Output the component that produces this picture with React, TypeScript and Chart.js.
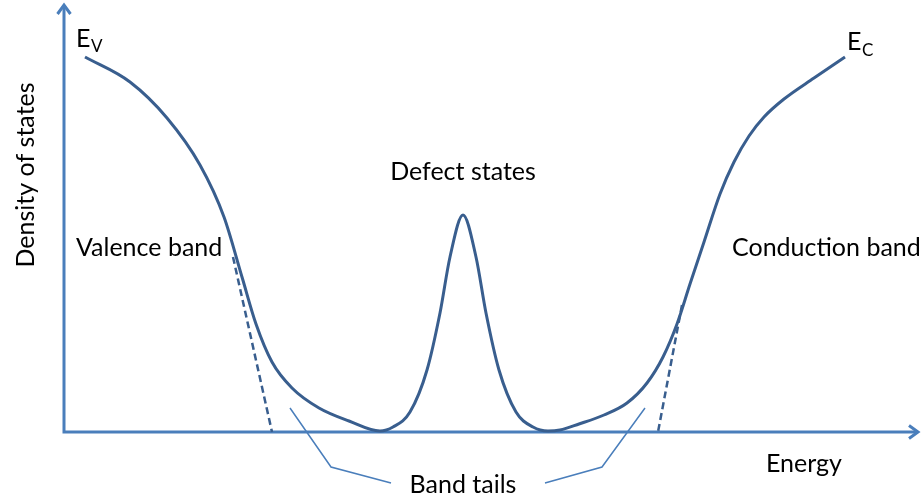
import React, { useEffect, useRef } from "react";
import { Chart, registerables } from "chart.js";
Chart.register(...registerables);

// Energy (x) and density of states (y), arbitrary units
const curveEnergy = [21, 66, 103, 136, 160, 178, 192, 208, 228, 255, 285, 316, 329, 346, 363, 376, 386, 399, 412, 422, 435, 452, 469, 484, 496, 515, 540, 563, 583, 599, 613, 626, 640, 656, 670, 685, 700, 720, 750, 781];
const curveDensity = [375, 350, 314, 267, 215, 155, 108, 70, 44, 24, 11, 1, 5, 20, 62, 119, 175, 217, 175, 119, 62, 20, 5, 1, 2, 8, 17, 29, 49, 75, 108, 148, 190, 238, 270, 296, 315, 333, 354, 375];

const valenceTailEnergy = [169, 208];
const valenceTailDensity = [175, 0];
const conductionTailEnergy = [618, 594];
const conductionTailDensity = [127, 0];

const leaderLeftEnergy = [226, 267, 327];
const leaderLeftDensity = [24, -35, -51];
const leaderRightEnergy = [481, 538, 581];
const leaderRightDensity = [-51, -35, 24];

const xMin = -64, xMax = 857, yMin = -67, yMax = 432;

const labels = [
  { text: "Valence band", x: 12, y: 184, align: "left" },
  { text: "Defect states", x: 399, y: 260, align: "center" },
  { text: "Conduction band", x: 668, y: 184, align: "left" },
  { text: "Energy", x: 702, y: -32, align: "left" },
  { text: "Band tails", x: 399, y: -53, align: "center" },
];

const pts = (xs: number[], ys: number[]) => xs.map((x, i) => ({ x, y: ys[i] }));

const FONT = "Lato, 'Noto Sans', sans-serif";
const AXIS = "#4A7EBB";
const CURVE = "#395E8E";

export default function App() {
  const ref = useRef<HTMLCanvasElement>(null);
  useEffect(() => {
    if (!ref.current) return;
    const overlay = {
      id: "overlay",
      beforeDatasetsDraw(chart: any) {
        const ctx = chart.ctx;
        const xs = chart.scales.x, ys = chart.scales.y;
        const ox = xs.getPixelForValue(0), oy = ys.getPixelForValue(0);
        ctx.save();
        ctx.strokeStyle = AXIS;
        ctx.lineWidth = 3;
        ctx.lineCap = "butt";
        ctx.beginPath();
        ctx.moveTo(ox, oy + 1.5);
        ctx.lineTo(ox, 5);
        ctx.moveTo(ox - 1.5, oy);
        ctx.lineTo(chart.width - 4, oy);
        ctx.stroke();
        ctx.lineJoin = "miter";
        ctx.beginPath();
        ctx.moveTo(ox - 6.5, 14);
        ctx.lineTo(ox, 5);
        ctx.lineTo(ox + 6.5, 14);
        ctx.moveTo(chart.width - 12, oy - 6.5);
        ctx.lineTo(chart.width - 3, oy);
        ctx.lineTo(chart.width - 12, oy + 6.5);
        ctx.stroke();
        ctx.restore();
      },
      afterDraw(chart: any) {
        const ctx = chart.ctx;
        const xs = chart.scales.x, ys = chart.scales.y;
        ctx.save();
        ctx.fillStyle = "#000";
        ctx.textBaseline = "middle";
        ctx.font = `25px ${FONT}`;
        for (const l of labels) {
          ctx.textAlign = l.align;
          ctx.fillText(l.text, xs.getPixelForValue(l.x), ys.getPixelForValue(l.y));
        }
        // E_V and E_C
        ctx.textAlign = "left";
        ctx.textBaseline = "alphabetic";
        ctx.font = `25px ${FONT}`;
        ctx.fillText("E", xs.getPixelForValue(12), ys.getPixelForValue(385));
        ctx.font = `17px ${FONT}`;
        ctx.fillText("V", xs.getPixelForValue(27), ys.getPixelForValue(380));
        ctx.font = `25px ${FONT}`;
        ctx.fillText("E", xs.getPixelForValue(783), ys.getPixelForValue(382));
        ctx.font = `17px ${FONT}`;
        ctx.fillText("C", xs.getPixelForValue(798), ys.getPixelForValue(376));
        // y-axis title
        ctx.font = `25px ${FONT}`;
        ctx.translate(26, 175);
        ctx.rotate(-Math.PI / 2);
        ctx.textAlign = "center";
        ctx.textBaseline = "middle";
        ctx.fillText("Density of states", 0, 0);
        ctx.restore();
      },
    };
    const chart = new Chart(ref.current, {
      type: "line",
      data: {
        datasets: [
          { data: pts(curveEnergy, curveDensity), borderColor: CURVE, borderWidth: 3, pointRadius: 0, cubicInterpolationMode: "monotone", fill: false },
          { data: pts(valenceTailEnergy, valenceTailDensity), borderColor: CURVE, borderWidth: 2.5, borderDash: [7, 4], pointRadius: 0, tension: 0 },
          { data: pts(conductionTailEnergy, conductionTailDensity), borderColor: CURVE, borderWidth: 2.5, borderDash: [7, 4], pointRadius: 0, tension: 0 },
          { data: pts(leaderLeftEnergy, leaderLeftDensity), borderColor: AXIS, borderWidth: 1.5, pointRadius: 0, tension: 0 },
          { data: pts(leaderRightEnergy, leaderRightDensity), borderColor: AXIS, borderWidth: 1.5, pointRadius: 0, tension: 0 },
        ] as any,
      },
      options: {
        animation: false,
        responsive: false,
        layout: { padding: 0 },
        plugins: { legend: { display: false }, tooltip: { enabled: false } },
        scales: {
          x: { type: "linear", min: xMin, max: xMax, display: false },
          y: { type: "linear", min: yMin, max: yMax, display: false },
        },
      },
      plugins: [overlay],
    });
    return () => chart.destroy();
  }, []);
  return (
    <div style={{ position: "absolute", left: 0, top: 0, width: 921, height: 499, background: "#fff" }}>
      <canvas ref={ref} width={921} height={499} style={{ display: "block" }} />
    </div>
  );
}
